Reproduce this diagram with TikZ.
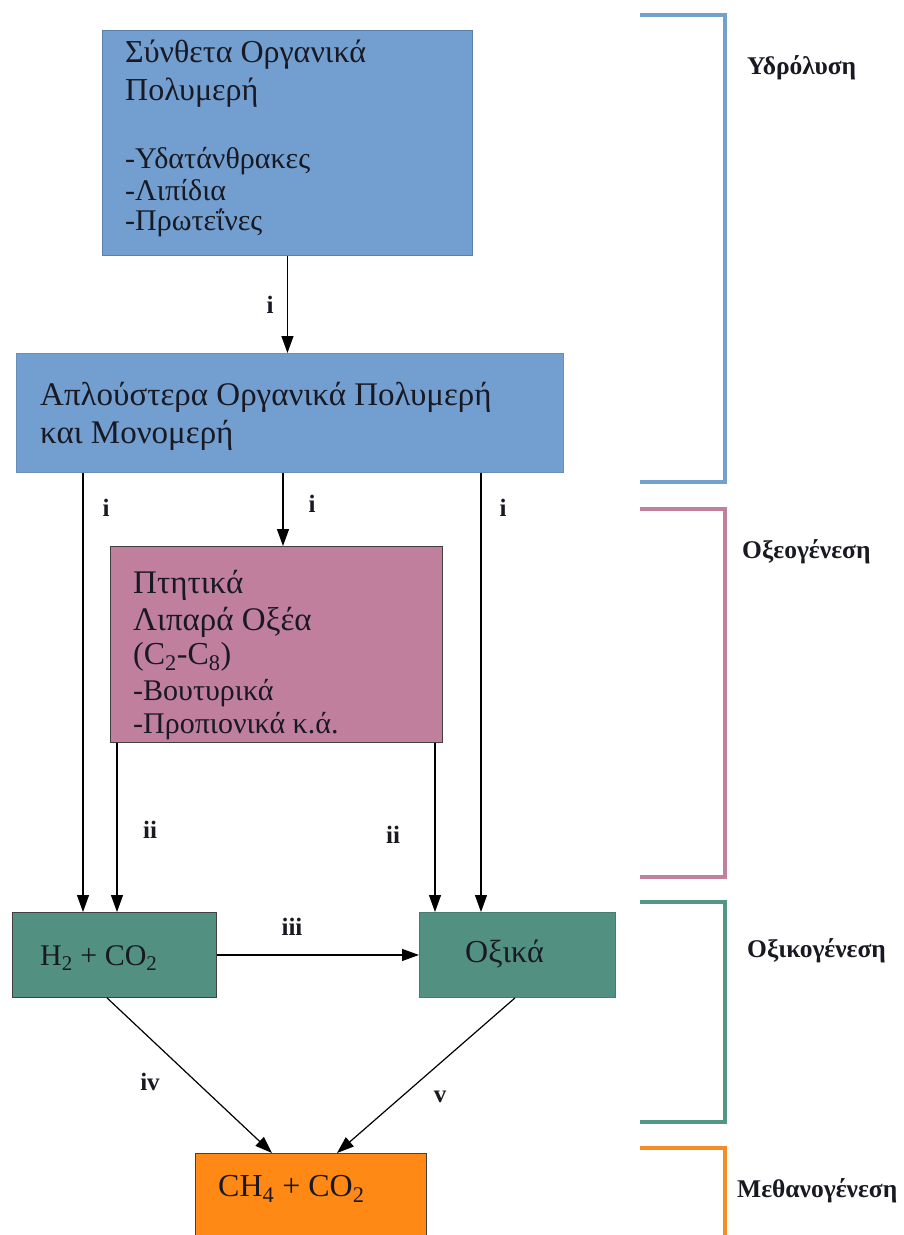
\documentclass[tikz,border=0pt]{standalone}
\usepackage{fontspec}
\setmainfont{Liberation Serif}
\usetikzlibrary{arrows.meta,calc}
\definecolor{boxblue}{RGB}{114,159,207}
\definecolor{boxpink}{RGB}{193,127,158}
\definecolor{boxteal}{RGB}{82,145,130}
\definecolor{boxorange}{RGB}{255,137,20}
\definecolor{brblue}{RGB}{116,160,206}
\definecolor{brpink}{RGB}{192,128,158}
\definecolor{brteal}{RGB}{84,150,134}
\definecolor{brorange}{RGB}{246,140,40}
\definecolor{ink}{RGB}{25,25,35}
\begin{document}
\begin{tikzpicture}[x=1pt,y=-1pt,
  box/.style={draw=black!75, line width=0.9pt, inner sep=0pt, anchor=north west},
  bigtxt/.style={text=ink, inner sep=0pt, anchor=base west, font=\fontsize{32}{38}\selectfont},
  listtxt/.style={text=ink, inner sep=0pt, anchor=base west, font=\fontsize{30}{34}\selectfont},
  steplbl/.style={text=ink, inner sep=0pt, anchor=base west, font=\bfseries\fontsize{25.5}{30}\selectfont},
  arrlbl/.style={text=ink, inner sep=0pt, font=\bfseries\fontsize{25}{30}\selectfont},
  arr/.style={draw=black, line width=1.2pt, -{Triangle[length=17pt,width=12pt]}},
  bracket/.style={line width=4pt}]
\useasboundingbox (0,0) rectangle (903,1235);
\fill[white] (0,0) rectangle (903,1235);

% boxes
\node[box, fill=boxblue, draw=boxblue!80!black, minimum width=370, minimum height=225] (cplx) at (102,30) {};
\node[box, fill=boxblue, draw=boxblue!90!black, minimum width=547, minimum height=119] (simp) at (16,353) {};
\node[box, fill=boxpink, minimum width=332, minimum height=196] (vfa) at (110,546) {};
\node[box, fill=boxteal, minimum width=204, minimum height=85] (h2) at (12,912) {};
\node[box, fill=boxteal, draw=boxteal!85!black, minimum width=196, minimum height=85] (ox) at (419,912) {};
\node[box, fill=boxorange, minimum width=231, minimum height=100] (ch4) at (195,1153) {};

% texts
\node[bigtxt] (c1) at (125,62) {Σύνθετα Οργανικά};
\node[bigtxt] (c2) at (125,100) {Πολυμερή};
\node[listtxt] (c3) at (125,168) {-Υδατάνθρακες};
\node[listtxt] (c4) at (125,200) {-Λιπίδια};
\node[listtxt] (c5) at (125,230) {-Πρωτεΐνες};

\node[bigtxt, font=\fontsize{33}{38}\selectfont] (s1) at (40,405) {Απλούστερα Οργανικά Πολυμερή};
\node[bigtxt, font=\fontsize{33}{38}\selectfont] (s2) at (40,443) {και Μονομερή};

\node[bigtxt, font=\fontsize{33}{38}\selectfont] (v1) at (133,593) {Πτητικά};
\node[bigtxt, font=\fontsize{33}{38}\selectfont] (v2) at (133,630) {Λιπαρά Οξέα};
\node[bigtxt] (v3) at (133,664) {(C\textsubscript{2}-C\textsubscript{8})};
\node[listtxt] (v4) at (133,700) {-Βουτυρικά};
\node[listtxt] (v5) at (133,733) {-Προπιονικά κ.ά.};

\node[bigtxt, font=\fontsize{30}{36}\selectfont, anchor=base west] (h2t) at (40,965) {H\textsubscript{2} + CO\textsubscript{2}};
\node[bigtxt, anchor=base west] (oxt) at (465,962) {Οξικά};
\node[bigtxt] (ch4t) at (218,1196) {CH\textsubscript{4} + CO\textsubscript{2}};

% connectors
\coordinate (xa) at (83,0);
\coordinate (xb) at (283,0);
\coordinate (xc) at (481,0);
\coordinate (xd) at (117,0);
\coordinate (xe) at (435,0);
\draw[arr] (cplx.south) -- (cplx.south |- simp.north);
\draw[arr] (simp.south -| xa) -- (h2.north -| xa);
\draw[arr] (simp.south -| xb) -- (vfa.north -| xb);
\draw[arr] (simp.south -| xc) -- (ox.north -| xc);
\draw[arr] (vfa.south -| xd) -- (h2.north -| xd);
\draw[arr] (vfa.south -| xe) -- (ox.north -| xe);
\draw[arr] (h2.east) -- (ox.west |- h2.east);
\draw[arr] ($(h2.south west)+(95,0)$) -- ($(ch4.north west)+(77,0)$);
\draw[arr] ($(ox.south west)+(96,0)$) -- ($(ch4.north west)+(142,0)$);

% connector labels
\node[arrlbl] (li0) at (270,305) {i};
\node[arrlbl] (li1) at (106,508) {i};
\node[arrlbl] (li2) at (312,504) {i};
\node[arrlbl] (li3) at (503,508) {i};
\node[arrlbl] (lii1) at (150,830) {ii};
\node[arrlbl] (lii2) at (393,835) {ii};
\node[arrlbl] (liii) at (292,927) {iii};
\node[arrlbl] (liv) at (150,1082) {iv};
\node[arrlbl] (lv) at (440,1097) {v};

% stage brackets
\draw[bracket, brblue] (640,15) -- (727,15) (725,15) -- (725,482) (640,482) -- (727,482);
\draw[bracket, brpink] (640,509) -- (727,509) (725,509) -- (725,877) (640,877) -- (727,877);
\draw[bracket, brteal] (640,902) -- (727,902) (725,902) -- (725,1122) (640,1122) -- (727,1122);
\draw[bracket, brorange] (640,1148) -- (727,1148) (725,1148) -- (725,1240);

\node[steplbl] (st1) at (747,74) {Υδρόλυση};
\node[steplbl] (st2) at (742,558) {Οξεογένεση};
\node[steplbl] (st3) at (747,957) {Οξικογένεση};
\node[steplbl] (st4) at (737,1197) {Μεθανογένεση};
\end{tikzpicture}
\end{document}
